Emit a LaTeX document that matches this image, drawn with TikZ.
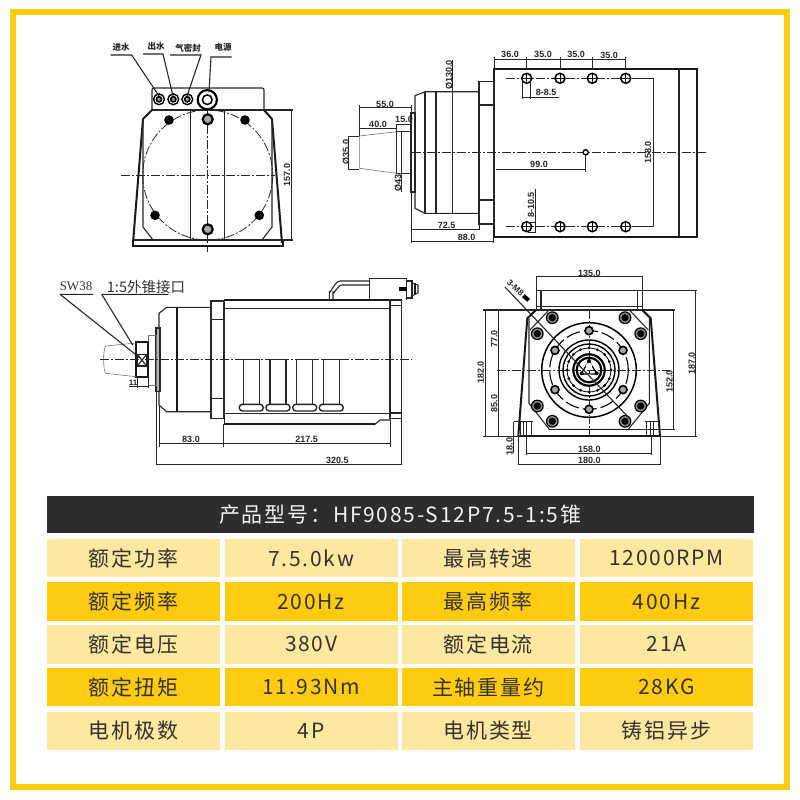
\documentclass[tikz,border=0pt]{standalone}
\usepackage{fontspec}
\setmainfont{Liberation Sans}
\newfontfamily\cjk[LetterSpace=8.5]{Noto Sans CJK SC}
\newfontfamily\cjkplain{Noto Sans CJK SC}
\newfontfamily\serifl{Liberation Serif}
\definecolor{frameY}{HTML}{FFCB10}
\definecolor{paleY}{HTML}{FEE79E}
\definecolor{headK}{HTML}{2D2D2D}
\definecolor{inkK}{HTML}{333333}
\tikzset{
  ln/.style={line width=1.1pt,black!85},
  thk/.style={line width=2pt,black!90},
  dm/.style={line width=.9pt,black!85},
  thn/.style={line width=.6pt,black!55},
  cl/.style={line width=.9pt,black!85,dash pattern=on 9pt off 2pt on 2pt off 2pt},
  dt/.style={font=\fontsize{9}{9}\bfseries,inner sep=0pt,text=black!85},
  dtv/.style={dt,rotate=90},
  lab/.style={font=\fontsize{8.5}{9}\cjkplain\bfseries,inner sep=0pt,text=black!85},
  cellA/.style={fill=paleY},
  cellB/.style={fill=frameY},
  celltxt/.style={font=\fontsize{21}{21}\cjk,text=inkK,inner sep=0pt},
  dotK/.style={fill=black}
}
\newcommand{\rowcells}[7]{% y0 y1 style t1 t2 t3 t4
  \path[#3] (47,#1) rectangle (220,#2) node[midway,celltxt] (c#1a) {#4};
  \path[#3] (225,#1) rectangle (397.5,#2) node[midway,celltxt] (c#1b) {#5};
  \path[#3] (402,#1) rectangle (574.5,#2) node[midway,celltxt] (c#1c) {#6};
  \path[#3] (580,#1) rectangle (753,#2) node[midway,celltxt] (c#1d) {#7};
}
\begin{document}
\begin{tikzpicture}[x=1pt,y=-1pt]
\useasboundingbox (0,0) rectangle (800,800);
\fill[white] (0,0) rectangle (800,800);
\draw[frameY,line width=6pt] (12.5,12.5) rectangle (787,787);

% ---------- view 1: front ----------
\draw[ln,rounded corners=2pt] (152,110)--(152,88)--(264,88)--(264,110);
\draw[ln] (152,110)--(293,110);
\draw[thk] (152,110)--(143,119)--(133,243);
\draw[thk] (264,110)--(272,119)--(282,243);
\draw[ln] (143,119)--(143,227)--(153,240);
\draw[ln] (272,119)--(272,227)--(262,240);
\draw[ln] (133,240)--(293,240);
\draw[thk] (133,240)--(133,246)--(283,246)--(283,240);
\draw[cl,line width=.8pt] (207.7,175) circle[radius=65];
\draw[ln] (190.7,110)--(190.7,240) (224.3,110)--(224.3,240);
\draw[cl] (121,175)--(275,175);
\draw[cl] (207.7,110)--(207.7,252);
\foreach \p in {(169,120),(245,120),(155,215.3),(259.3,215.3)}
  \fill[dotK] \p circle[radius=4.8];
\foreach \p in {(207.7,119.3),(207.7,229.3)}{
  \draw[line width=2.2pt,fill=black!35] \p circle[radius=5];
}
\foreach \p in {(159,99.3),(173.3,99.3),(187.3,99.3)}{
  \draw[line width=1.4pt,fill=white] \p circle[radius=5.4];
  \draw[line width=1.6pt,fill=black!40] \p circle[radius=2.6];
}
\draw[line width=2.1pt,fill=white] (207.3,99.7) circle[radius=9.6];
\draw[line width=1.5pt,fill=white] (207.3,99.7) circle[radius=4.8];
\draw[ln] (110.7,55)--(131.7,55)--(159,96);
\draw[ln] (143,54)--(163,54)--(173,96);
\draw[ln] (170,55)--(201,55)--(187,96);
\draw[ln] (231.7,57)--(211,57)--(209,92);
\node[lab] (l1) at (121,47) {进水};
\node[lab] (l2) at (156,46.5) {出水};
\node[lab] (l3) at (188,48) {气密封};
\node[lab] (l4) at (223,47) {电源};
\draw[dm] (291.7,110)--(291.7,241);
\node[dtv] (d157) at (287,175) {157.0};

% ---------- view 2: side with dimensions ----------
\draw[thk] (494,69.3) rectangle (696.7,236.7);
\draw[ln] (679,69.3)--(679,236.7);
\draw[ln] (479,81.7) rectangle (494,224);
\draw[ln] (479,105)--(494,105) (479,200)--(494,200);
\draw[ln] (478.3,91.7)--(425,91.7)--(415,95.7)--(415,208.3)--(425,213.3)--(478.3,213.3);
\draw[ln] (425,91.7)--(425,213.3) (436,91.7)--(436,213.3) (452.7,60)--(452.7,213.3);
\draw[ln] (411,113) rectangle (415,192);
\draw[ln] (396.7,131.7) rectangle (411,173.3);
\draw[ln] (401.7,131.7)--(401.7,173.3);
\draw[thn] (359.3,136)--(396.7,131.7) (359.3,168.3)--(396.7,173.3) (359.3,136)--(359.3,168.3);
\draw[dm] (348.3,136)--(359.3,136) (348.3,169.3)--(359.3,169.3) (348.3,136)--(348.3,169.3);
\node[dtv] (d35) at (346,152) {Ø35.0};
\draw[dm] (359.3,107.7)--(411,107.7) (359.3,105)--(359.3,136) (411,105)--(411,125);
\node[dt] (d55) at (385,104) {55.0};
\draw[dm] (359.3,128.3)--(396.7,128.3) (396.7,124.3)--(396.7,131.7) (396.7,124.3)--(411,124.3);
\node[dt] (d40) at (378,124) {40.0};
\node[dt] (d15) at (404,119.5) {15.0};
\draw[dm] (401.7,173.3)--(401.7,192);
\node[dtv] (d43) at (398,183) {Ø43};
\node[dtv] (d130) at (449,75) {Ø130.0};
\draw[dm] (494,57)--(494,69) (526.7,57)--(526.7,69) (560,57)--(560,69) (592.3,57)--(592.3,69) (625.7,57)--(625.7,69);
\draw[dm] (494,59.3)--(625.7,59.3);
\node[dt] (d36) at (510,54.5) {36.0};
\node[dt] (d35a) at (543,54.5) {35.0};
\node[dt] (d35b) at (576,54.5) {35.0};
\node[dt] (d35c) at (609,55) {35.0};
\draw[cl] (505.7,78.3)--(630,78.3) (505.7,226.7)--(630,226.7);
\foreach \y in {78.3,226.7}
  \foreach \x in {526.7,560,592.3,625.7}{
    \draw[line width=1.5pt,fill=white] (\x,\y) circle[radius=5];
    \draw[line width=.6pt] (\x-5,\y)--(\x+5,\y) (\x,\y-5)--(\x,\y+5);
  }
\draw[ln] (631.7,78.3)--(653.3,78.3)--(653.3,226.7)--(631.7,226.7);
\node[dtv] (d158) at (648,152.7) {158.0};
\draw[dm] (522.7,78.3)--(522.7,98.7) (530.7,78.3)--(530.7,98.7) (522.7,97.7)--(559.3,97.7);
\node[dt] (d85) at (546,92.5) {8-8.5};
\node[dtv] (d105) at (531,205) {8-10.5};
\draw[dm] (535.7,189)--(535.7,232) (528,222)--(536,222) (528,232)--(536,232);
\draw[cl] (411.7,152.7)--(706.7,152.7);
\draw[line width=1.3pt,fill=white] (585.7,152.3) circle[radius=2.6];
\draw[dm] (495.7,169)--(585.7,169) (585.7,155)--(585.7,171.7);
\node[dt] (d99) at (539,164.5) {99.0};
\draw[dm] (411,229.3)--(479,229.3) (479,213.3)--(479,230);
\node[dt] (d72) at (446.7,225) {72.5};
\draw[dm] (411,241)--(493.3,241) (411,192)--(411,243.3) (493.3,236.7)--(493.3,243.3);
\node[dt] (d88) at (466.7,237.3) {88.0};

% ---------- view 3: assembly ----------
\draw[thk] (224.3,300)--(390,300);
\draw[ln] (224.3,300)--(224.3,424.3);
\draw[ln] (224.3,308.3)--(390,308.3) (224.3,413.3)--(390,413.3);
\draw[thk] (224.3,424.3)--(375,424.3);
\draw[ln] (375,424.3)--(380,420)--(390,420);
\draw[ln] (390,300) rectangle (401.7,418.3);
\draw[ln] (390,305.7)--(401.7,305.7) (390,413)--(401.7,413);
\draw[ln] (211,301) rectangle (223.3,418.3);
\draw[ln] (211,319.3)--(223.3,319.3) (211,398.3)--(223.3,398.3);
\draw[ln] (211,307.3)--(166.7,307.3)--(159,313.3)--(159,405)--(166.7,411.7)--(211,411.7);
\draw[thk] (176.7,307.3)--(176.7,411.7);
\draw[ln,fill=black!30] (156,328) rectangle (160,391.7);
\draw[thn] (148.3,335) rectangle (156,385);
\draw[thk] (136,342.3) rectangle (148.3,376.7);
\draw[ln] (137.3,354.3) rectangle (146.7,366);
\draw[ln] (137.3,354.3)--(146.7,366) (146.7,354.3)--(137.3,366);
\draw[thn] (136,343)--(106,346) to[out=190,in=170,looseness=.3] (106,373.3)--(136,376.7);
\draw[cl] (100,359.3)--(411.7,359.3);
\foreach \x in {243.3,270,296.7,323.3}{
  \draw[ln,line width=1.4pt] (\x,405)--(\x,359.3)--(\x+16,359.3)--(\x+16,405);
  \draw[ln,line width=1.4pt,rounded corners=3.2pt,fill=white] (\x-4,404.3) rectangle (\x+20,411);
}
\draw[ln] (329.3,300)--(329.3,291) to[out=-90,in=180] (340,281)--(369,281);
\draw[ln] (333,300)--(333,292) to[out=-90,in=180] (342,285)--(369,285);
\draw[dm] (369,278)--(406,278) (369,278)--(369,300) (406,278)--(406,300);
\draw[ln] (406,281)--(412,281)--(412,298)--(406,298);
\draw[thk] (415,283)--(415,295);
\fill[black] (399,287) rectangle (407,291);
\draw[ln] (412,283)--(418,285)--(418,293)--(412,296);
\draw[ln] (60,294.3)--(93.3,294.3) (60,294.3)--(140,358);
\draw[ln] (101.7,294.3)--(168.3,294.3) (101.7,294.3)--(132.7,345);
\node[inner sep=0pt,font=\fontsize{13}{13}\serifl,text=black!80] (sw) at (76,286) {SW38};
\node[inner sep=0pt,font=\fontsize{14.5}{14.5}\cjkplain,text=black!80] (ext) at (146,286.5) {1:5外锥接口};
\draw[dm] (129,386.7)--(148,386.7) (137.3,376.7)--(137.3,388) (148.3,376.7)--(148.3,388);
\node[dt,font=\fontsize{8}{8}\bfseries] (d11) at (133,383) {11};
\draw[dm] (159.3,443.3)--(223.3,443.3) (224.3,443.3)--(390.7,443.3);
\draw[dm] (223.5,424)--(223.5,446.7) (390.7,418.3)--(390.7,446.7) (159.3,405)--(159.3,446.7);
\node[dt] (d83) at (191,439.5) {83.0};
\node[dt] (d217) at (306.7,439.5) {217.5};
\draw[dm] (156,464)--(401.7,464) (156,391.7)--(156,465) (401.7,418.3)--(401.7,465);
\node[dt] (d320) at (337.3,460) {320.5};

% ---------- view 4: end ----------
\draw[ln] (536.7,290.7) rectangle (642.3,310);
\draw[ln] (541,290.7)--(541,310) (637.7,290.7)--(637.7,310);
\draw[ln] (536.7,306.7)--(642.3,306.7);
\draw[dm] (536,276.7)--(642.7,276.7) (536,276.7)--(536,291) (642.7,276.7)--(642.7,291);
\node[dt] (d135) at (589.3,273) {135.0};
\draw[dm] (642.3,290.7)--(697,290.7);
\draw[ln] (483.3,310)--(675,310);
\draw[thk] (536,310)--(527.3,318.3)--(518.3,436);
\draw[thk] (642.3,310)--(650.7,318.3)--(660,436);
\draw[ln] (529,318.3)--(529,403.3)--(549.3,429.3)--(628.3,429.3)--(649.3,403.3)--(649.3,318.3);
\draw[ln] (548.3,310.7)--(530,330) (630,310.7)--(648.3,330);
\draw[thk] (518.3,436)--(660,436);
\draw[dm] (483.3,436)--(518.3,436) (660,436)--(697,436);
\draw[ln] (513.7,421.7)--(533.3,421.7) (645,421.7)--(660,421.7);
\draw[dm] (520,421.7)--(520,436) (523.3,421.7)--(523.3,436) (526.7,421.7)--(526.7,436) (531.7,421.7)--(531.7,436);
\draw[dm] (646.7,421.7)--(646.7,436) (650,421.7)--(650,436) (653.3,421.7)--(653.3,436);
\foreach \p in {(552.3,317.7),(625,317.7),(537.3,333.7),(640.7,333.7),(537.3,406),(640.7,406),(552.3,421.3),(625,421.3)}{
  \draw[line width=1.2pt,fill=black!45] \p circle[radius=5.8];
  \fill[black] \p circle[radius=3.6];
}
\draw[cl] (589,310)--(589,436);
\draw[cl] (496.7,370)--(670,370);
\begin{scope}[shift={(589,370)}]
  \draw[line width=1.5pt] (0,0) circle[radius=47.3];
  \draw[line width=1.1pt,dash pattern=on 14pt off 4pt] (0,0) circle[radius=39.3];
  \draw[line width=1.4pt] (0,0) circle[radius=30];
  \draw[line width=1.4pt] (0,0) circle[radius=26];
  \foreach \a in {0,22.5,...,337.5}
    \fill[black] (\a:22) circle[radius=1.5];
  \draw[line width=.8pt] (0,0) circle[radius=22];
  \draw[line width=2.2pt] (0,0) circle[radius=15.7];
  \draw[line width=2.2pt] (0,0) circle[radius=12.3];
  \foreach \a in {90,30,-30,-90,150,210}
    \draw[line width=1.6pt,fill=black!35] (\a:39.3) circle[radius=4];
  \draw[line width=1.2pt] (-8,4)--(8,4) (-8,4)--(0,-9)--(8,4);
  \fill[white] (0,-4) circle[radius=3.2] (0,7) circle[radius=3];
  \foreach \p in {(0,-9),(-7.3,3.3),(7.7,3.3)}
    \fill[black] \p circle[radius=2];
\end{scope}
\draw[ln] (505,287)--(630,419);
\node[dt,rotate=-42,font=\fontsize{8.5}{8.5}\bfseries] (m8) at (515.5,288) {3-M8};
\fill[black,rotate around={-42:(526,298)}] (522.5,296) rectangle (529.5,300);
\draw[dm] (485,310)--(485,436);
\node[dtv] (d182) at (480.7,372.3) {182.0};
\draw[dm] (498.3,310)--(498.3,436);
\node[dtv] (d77) at (494.3,339) {77.0};
\node[dtv] (d85b) at (494.3,403.3) {85.0};
\draw[dm] (673.3,310)--(673.3,429.3) (628,429.3)--(675,429.3);
\node[dtv] (d152) at (669.5,381.7) {152.0};
\draw[dm] (695.7,290.7)--(695.7,436);
\node[dtv] (d187) at (691.8,363.3) {187.0};
\draw[dm] (513.3,421.7)--(513.3,453.3);
\node[dtv] (d18) at (509.5,446.7) {18.0};
\draw[dm] (526.7,453.3)--(651.7,453.3) (526.7,436)--(526.7,455) (651.7,436)--(651.7,455);
\node[dt] (d158b) at (589.3,449.3) {158.0};
\draw[dm] (518.3,464.3)--(660,464.3) (518.3,436)--(518.3,465.3) (660,436)--(660,465.3);
\node[dt] (d180) at (589.3,460) {180.0};

% ---------- table ----------
\path[fill=headK] (47,495.5) rectangle (753.5,533.3) node[midway,celltxt,text=white!95!black] (head) {产品型号：HF9085-S12P7.5-1:5锥};
\rowcells{539.3}{577.3}{cellA}{额定功率}{7.5.0kw}{最高转速}{12000RPM}
\rowcells{582.3}{620.7}{cellB}{额定频率}{200Hz}{最高频率}{400Hz}
\rowcells{625}{663.5}{cellA}{额定电压}{380V}{额定电流}{21A}
\rowcells{668}{706.3}{cellB}{额定扭矩}{11.93Nm}{主轴重量约}{28KG}
\rowcells{711.7}{750}{cellA}{电机极数}{4P}{电机类型}{铸铝异步}
\end{tikzpicture}
\end{document}
